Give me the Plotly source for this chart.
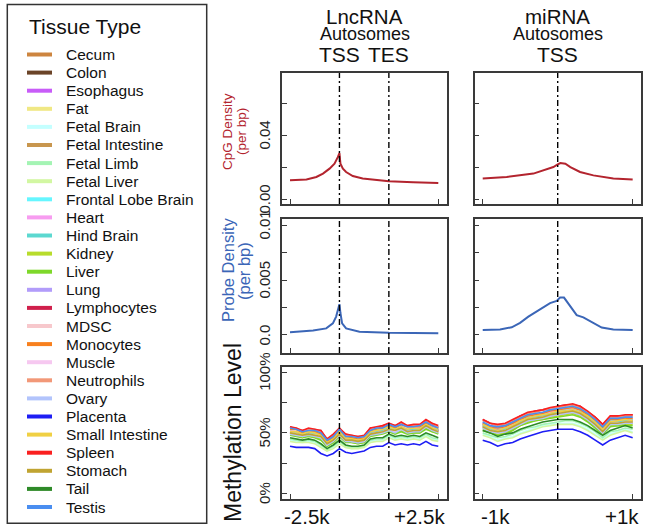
import plotly.graph_objects as go

W, H = 646, 529
FONT = "Liberation Sans, Arial, Helvetica, sans-serif"

# ---------------- data ----------------
tissues = ["Cecum", "Colon", "Esophagus", "Fat", "Fetal Brain", "Fetal Intestine",
           "Fetal Limb", "Fetal Liver", "Frontal Lobe Brain", "Heart", "Hind Brain",
           "Kidney", "Liver", "Lung", "Lymphocytes", "MDSC", "Monocytes", "Muscle",
           "Neutrophils", "Ovary", "Placenta", "Small Intestine", "Spleen", "Stomach",
           "Tail", "Testis"]
colors = ["#cd853f", "#6b4428", "#c85cf8", "#f0e884", "#c4ffff", "#c8964e",
          "#a4f4b4", "#d2f7a2", "#66f6ff", "#f79cf0", "#5cd8d0", "#b8dc2c",
          "#7ed82a", "#b29cfa", "#d0204c", "#f7c8cc", "#f8801e", "#f6c8f0",
          "#f29878", "#b2c4fc", "#1e1ef4", "#f0d044", "#fa2020", "#c0a432",
          "#2e8a28", "#4a8ef0"]

# LncRNA panel: scaled coordinate, 0 = -2.5k, 1 = TSS, 2 = TES, 3 = +2.5k
lnc_ticks = [0, 1, 2, 3]
mir_ticks = [-1000, 0, 1000]

cpg_lnc_x = [0, 0.333, 0.533, 0.667, 0.8, 0.9, 0.967, 1.0, 1.02, 1.07, 1.135, 1.27, 1.47, 1.76, 2.0, 2.49, 3.0]
cpg_lnc_y = [0.0118, 0.0122, 0.0138, 0.0159, 0.019, 0.0221, 0.0262, 0.0287, 0.0221, 0.019, 0.0169,
             0.0144, 0.0128, 0.0118, 0.0111, 0.0105, 0.0101]
cpg_mir_x = [-1000, -680, -324, -147, -58, 0, 36, 102, 169, 298, 476, 742, 1000]
cpg_mir_y = [0.0128, 0.0138, 0.0159, 0.0184, 0.02, 0.0216, 0.0225, 0.0221, 0.02, 0.0169, 0.0148, 0.0128, 0.0122]

probe_lnc_x = [0, 0.467, 0.733, 0.867, 0.933, 0.973, 1.0, 1.02, 1.054, 1.135, 1.405, 2.0, 3.0]
probe_lnc_y = [0.00024, 0.0004, 0.0006, 0.00106, 0.00167, 0.0024, 0.0028, 0.002, 0.00106, 0.0006,
               0.0003, 0.0002, 0.00015]
probe_mir_x = [-1000, -769, -613, -502, -391, -236, -102, -13, 31, 84, 164, 253, 342, 476, 587, 742, 1000]
probe_mir_y = [0.00045, 0.0005, 0.0007, 0.0011, 0.00167, 0.0023, 0.0029, 0.0031, 0.0034, 0.0034,
               0.0026, 0.0018, 0.0016, 0.00106, 0.00067, 0.0005, 0.00045]

lnc_x = [0, 0.125, 0.25, 0.375, 0.5, 0.625, 0.75, 0.875, 1.0, 1.125, 1.25, 1.375, 1.5,
         1.625, 1.75, 1.875, 2.0, 2.125, 2.25, 2.375, 2.5, 2.625, 2.75, 2.875, 3.0]
mir_x = [-1000, -900, -800, -700, -600, -500, -400, -300, -200, -100, 0,
         100, 200, 300, 400, 500, 600, 700, 800, 900, 1000]

# methylation (%) per tissue, LncRNA panel
lnc_cecum = [51,50,49,50,49,48,42,45,50,45,44,44,45,50,51,52,54,52,55,52,53,53,57,54,52]
lnc_colon = [51,50,48,50,49,47,41,45,50,45,44,43,44,50,51,52,54,52,55,52,53,53,56,54,52]
lnc_esophagus = [52,51,49,50,50,48,42,45,50,45,45,44,45,50,51,53,54,53,55,53,53,54,57,55,52]
lnc_fat = [50,50,48,50,49,47,41,44,50,45,44,43,44,50,51,52,54,52,54,52,52,53,56,54,51]
lnc_fetal_brain = [44,43,42,43,42,39,35,38,42,38,37,38,39,43,44,44,47,45,46,45,46,45,48,45,44]
lnc_fetal_intestine = [50,49,47,49,48,46,40,44,49,44,43,42,43,49,50,51,53,51,54,51,52,52,55,53,51]
lnc_fetal_limb = [45,44,43,44,43,40,36,39,43,39,38,38,39,44,45,45,48,46,47,46,47,46,49,46,45]
lnc_fetal_liver = [43,42,42,42,41,38,35,37,41,38,37,37,38,42,43,43,46,44,45,44,45,44,47,44,43]
lnc_frontal_lobe = [52,51,49,51,50,49,42,46,51,46,45,44,45,51,52,53,55,53,56,53,54,54,58,55,53]
lnc_heart = [52,52,50,51,51,49,43,46,51,46,46,45,46,51,52,54,55,54,56,54,54,55,58,55,53]
lnc_hind_brain = [51,51,48,50,50,48,41,45,50,46,45,43,44,50,51,52,55,52,55,52,53,53,57,54,52]
lnc_kidney = [48,48,46,48,47,45,39,42,47,43,42,41,42,48,49,50,51,50,52,50,50,50,54,51,50]
lnc_liver = [48,47,46,47,46,44,39,42,47,42,42,41,42,47,48,49,51,49,51,49,50,50,53,51,49]
lnc_lung = [50,49,48,48,48,46,40,44,49,44,43,42,43,49,50,51,53,51,54,51,51,52,55,53,51]
lnc_lymphocytes = [55,53,52,53,52,52,44,48,53,49,47,47,47,54,54,55,58,55,58,55,56,56,60,57,55]
lnc_mdsc = [53,52,50,52,51,50,43,47,52,47,46,45,46,52,53,54,56,54,57,54,55,55,59,56,54]
lnc_monocytes = [53,53,50,51,51,49,43,46,52,47,46,45,46,52,53,54,56,54,57,55,55,55,58,56,54]
lnc_muscle = [50,49,47,49,48,47,40,44,49,44,43,43,43,49,50,51,53,51,53,51,52,52,55,53,51]
lnc_neutrophils = [54,54,51,53,53,51,45,48,54,48,48,46,47,53,54,56,57,56,58,56,56,56,60,58,55]
lnc_ovary = [49,48,47,48,47,46,40,43,48,43,43,42,43,48,49,50,52,50,53,50,51,51,55,52,50]
lnc_placenta = [39,38,38,38,37,33,31,33,37,34,33,34,35,38,39,39,42,40,41,40,41,40,43,40,39]
lnc_small_intestine = [51,51,49,51,50,48,42,45,51,46,45,44,45,51,52,53,55,53,55,53,54,53,57,54,53]
lnc_spleen = [55,54,52,54,53,52,45,49,54,49,48,47,48,54,55,56,58,56,59,56,57,57,61,58,56]
lnc_stomach = [50,49,48,49,48,47,41,44,49,44,44,43,44,49,50,51,53,52,54,51,52,52,56,53,51]
lnc_tail = [46,45,44,45,44,41,37,40,44,40,39,39,40,45,46,46,49,47,48,47,48,47,50,48,46]
lnc_testis = [54,53,51,52,52,50,44,47,53,47,47,46,47,52,54,54,57,55,57,55,55,56,59,56,54]

# methylation (%) per tissue, miRNA panel
mir_cecum = [57,54,52,53,56,60,62,63,65,66,67,68,69,67,63,58,52,59,60,60,60]
mir_colon = [56,53,52,52,56,59,61,63,64,65,67,68,68,67,63,58,52,59,59,60,59]
mir_esophagus = [57,54,53,54,57,60,63,64,65,67,68,69,70,68,64,59,53,60,60,61,61]
mir_fat = [56,53,51,52,55,59,61,63,64,65,66,67,68,66,63,58,52,58,59,60,59]
mir_fetal_brain = [49,47,44,46,47,50,52,54,56,57,58,58,58,56,53,49,45,49,51,53,51]
mir_fetal_intestine = [55,52,51,51,54,58,60,62,63,64,66,66,67,65,62,57,51,57,58,59,58]
mir_fetal_limb = [50,48,46,47,49,52,54,55,57,58,59,60,60,58,55,51,46,51,52,54,53]
mir_fetal_liver = [48,46,43,45,46,49,51,53,55,56,57,57,57,55,52,48,44,48,50,52,50]
mir_frontal_lobe = [58,55,54,54,57,61,63,65,66,67,69,69,70,68,65,60,54,60,61,62,61]
mir_heart = [58,56,54,55,57,61,64,65,66,67,69,70,70,69,65,60,54,61,61,62,62]
mir_hind_brain = [56,53,52,53,56,59,62,63,64,66,67,68,69,67,63,58,52,59,59,60,60]
mir_kidney = [53,50,49,50,53,56,59,60,61,63,64,65,66,64,60,55,49,56,56,57,57]
mir_liver = [52,50,48,49,52,56,58,60,61,62,63,64,65,63,59,54,49,55,56,56,56]
mir_lung = [54,52,50,51,54,57,60,61,63,64,65,66,67,65,61,56,50,57,58,58,58]
mir_lymphocytes = [61,58,56,57,60,64,66,68,69,70,72,73,73,72,67,63,57,63,64,64,65]
mir_mdsc = [59,56,55,55,58,62,65,66,67,68,70,71,71,70,66,61,55,62,62,63,62]
mir_monocytes = [58,55,54,55,58,61,64,65,66,68,69,70,71,69,65,60,54,61,61,62,62]
mir_muscle = [55,52,50,52,55,58,61,62,63,64,66,67,68,66,62,57,51,58,58,59,59]
mir_neutrophils = [60,58,56,57,60,63,66,67,69,70,71,72,73,71,67,62,56,63,63,64,64]
mir_ovary = [54,51,50,51,54,57,60,61,62,64,65,66,67,65,61,56,50,57,57,58,58]
mir_placenta = [44,42,39,41,42,45,47,49,51,52,53,53,53,51,48,44,40,44,46,48,46]
mir_small_intestine = [57,54,52,54,56,60,62,64,65,66,68,68,69,67,64,59,53,59,60,61,60]
mir_spleen = [61,58,57,58,61,64,67,68,69,71,72,73,74,72,68,63,57,64,64,65,65]
mir_stomach = [55,52,51,52,55,58,61,62,63,65,66,67,68,66,62,57,51,58,58,59,59]
mir_tail = [52,50,47,49,50,53,55,57,59,60,61,61,61,59,56,52,48,52,54,56,54]
mir_testis = [59,56,55,56,59,62,65,66,67,69,70,71,72,70,66,61,55,62,62,63,63]

meth_lnc = [lnc_cecum, lnc_colon, lnc_esophagus, lnc_fat, lnc_fetal_brain, lnc_fetal_intestine,
            lnc_fetal_limb, lnc_fetal_liver, lnc_frontal_lobe, lnc_heart, lnc_hind_brain,
            lnc_kidney, lnc_liver, lnc_lung, lnc_lymphocytes, lnc_mdsc, lnc_monocytes, lnc_muscle,
            lnc_neutrophils, lnc_ovary, lnc_placenta, lnc_small_intestine, lnc_spleen, lnc_stomach,
            lnc_tail, lnc_testis]
meth_mir = [mir_cecum, mir_colon, mir_esophagus, mir_fat, mir_fetal_brain, mir_fetal_intestine,
            mir_fetal_limb, mir_fetal_liver, mir_frontal_lobe, mir_heart, mir_hind_brain,
            mir_kidney, mir_liver, mir_lung, mir_lymphocytes, mir_mdsc, mir_monocytes, mir_muscle,
            mir_neutrophils, mir_ovary, mir_placenta, mir_small_intestine, mir_spleen, mir_stomach,
            mir_tail, mir_testis]

cpg_ticks = [0, 0.02, 0.04, 0.06]
cpg_labels = {0: "0.00", 0.04: "0.04"}
probe_ticks = [0, 0.0025, 0.005, 0.0075, 0.01]
probe_labels = {0: "0.0", 0.005: "0.005", 0.01: "0.01"}
meth_ticks = [0, 25, 50, 75, 100]
meth_labels = {0: "0%", 50: "50%", 100: "100%"}

CPG_COLOR = "#b3242e"
PROBE_COLOR = "#3b66b7"

# ---------------- layout helpers ----------------
def px(p):
    return p / W


def py(p):
    return 1 - p / H


col_dom = [[px(282.3), px(446.7)], [px(474.7), px(640.7)]]
row_dom = [[py(204), py(73)], [py(353), py(219)], [py(499), py(367)]]
x_ranges = [[-0.156, 3.17], [-1107, 1107]]
y_ranges = [[-0.0031, 0.0788], [-0.00164, 0.01055], [-4.6, 104.4]]
y_tickvals = [cpg_ticks, probe_ticks, meth_ticks]
x_tickvals = [lnc_ticks, mir_ticks]

fig = go.Figure()
layout = dict(width=W, height=H, margin=dict(l=0, r=0, t=0, b=0),
              paper_bgcolor="white", plot_bgcolor="white", showlegend=False,
              font=dict(family=FONT, color="#111"))

AX = dict(showline=True, mirror=True, linecolor="#3a3a3a", linewidth=1.5,
          ticks="inside", ticklen=5, tickwidth=1.3, tickcolor="#3a3a3a",
          showticklabels=False, showgrid=False, zeroline=False, fixedrange=True)

panel = {}
k = 0
for r in range(3):
    for c in range(2):
        k += 1
        sx = "" if k == 1 else str(k)
        layout["xaxis" + sx] = dict(AX, domain=col_dom[c], range=x_ranges[c],
                                    tickvals=x_tickvals[c], anchor="y" + sx)
        layout["yaxis" + sx] = dict(AX, domain=row_dom[r], range=y_ranges[r],
                                    tickvals=y_tickvals[r], anchor="x" + sx)
        panel[(r, c)] = ("x" + sx, "y" + sx)


def add(r, c, x, y, color, width):
    xa, ya = panel[(r, c)]
    fig.add_trace(go.Scatter(x=x, y=y, mode="lines", line=dict(color=color, width=width),
                             xaxis=xa, yaxis=ya, hoverinfo="skip", showlegend=False))


add(0, 0, cpg_lnc_x, cpg_lnc_y, CPG_COLOR, 2)
add(0, 1, cpg_mir_x, cpg_mir_y, CPG_COLOR, 2)
add(1, 0, probe_lnc_x, probe_lnc_y, PROBE_COLOR, 2)
add(1, 1, probe_mir_x, probe_mir_y, PROBE_COLOR, 2)
for vals, col in zip(meth_lnc, colors):
    add(2, 0, lnc_x, vals, col, 1.6)
for vals, col in zip(meth_mir, colors):
    add(2, 1, mir_x, vals, col, 1.6)

shapes = []
annotations = []
DASH = "6px,3px,2px,3px"
for r in range(3):
    for c, xs in ((0, [1, 2]), (1, [0])):
        xa, ya = panel[(r, c)]
        for xv in xs:
            shapes.append(dict(type="line", xref=xa, yref=ya + " domain", x0=xv, x1=xv,
                               y0=0, y1=1, line=dict(color="black", width=1.4, dash=DASH)))


def ann(text, x, y, xref="paper", yref="paper", size=15, color="#111", angle=0,
        xanchor="center", yanchor="middle", xshift=0):
    annotations.append(dict(text=text, x=x, y=y, xref=xref, yref=yref, textangle=angle,
                            showarrow=False, xanchor=xanchor, yanchor=yanchor, xshift=xshift,
                            font=dict(size=size, color=color, family=FONT)))


# y tick labels (rotated), left column only
label_sets = [cpg_labels, probe_labels, meth_labels]
for r in range(3):
    xa, ya = panel[(r, 0)]
    for v, t in label_sets[r].items():
        ann(t, px(264.5), v, yref=ya, size=15, color="#222", angle=-90)

# x tick labels
for t, xd, anc, c, sh in (("-2.5k", 0, "left", 0, 0), ("+2.5k", 1, "right", 0, 0),
                          ("-1k", 0, "left", 1, 4), ("+1k", 1, "right", 1, 0)):
    xa, ya = panel[(2, c)]
    ann(t, xd, py(516.5), xref=xa + " domain", size=20.5, xanchor=anc, xshift=sh)

# y axis titles
ann("CpG Density", px(227.5), py(131.5), size=13.5, color=CPG_COLOR, angle=-90)
ann("(per bp)", px(242), py(132), size=13.5, color=CPG_COLOR, angle=-90)
ann("Probe Density", px(227.5), py(270.5), size=16.5, color=PROBE_COLOR, angle=-90)
ann("(per bp)", px(244), py(271), size=16.5, color=PROBE_COLOR, angle=-90)
ann("Methylation Level", px(233), py(433), size=23, angle=-90)

# column headers
for t, c, ypx, fs in (("LncRNA", 0, 16.7, 20.5), ("Autosomes", 0, 33.5, 18),
                      ("miRNA", 1, 16.7, 20.5), ("Autosomes", 1, 34, 18)):
    xa, _ = panel[(0, c)]
    ann(t, 0.5, py(ypx), xref=xa + " domain", size=fs)
for t, c, xv in (("TSS", 0, 1), ("TES", 0, 2), ("TSS", 1, 0)):
    xa, _ = panel[(0, c)]
    ann(t, xv, py(54.5), xref=xa, size=21)

# legend (drawn manually)
shapes.append(dict(type="rect", xref="paper", yref="paper", x0=px(7.3), x1=px(206.7),
                   y0=py(523.3), y1=py(4.5), line=dict(color="#333", width=1.5)))
ann("Tissue Type", px(26.7), py(26), size=21, xanchor="left")
for i, (t, col) in enumerate(zip(tissues, colors)):
    yc = 54.5 + 18.1 * i
    shapes.append(dict(type="line", xref="paper", yref="paper", x0=px(27), x1=px(52),
                       y0=py(yc), y1=py(yc), line=dict(color=col, width=4)))
    ann(t, px(64.3), py(yc), size=15.5, xanchor="left")

layout["shapes"] = shapes
layout["annotations"] = annotations
fig.update_layout(**layout)
fig.write_html("out.html", config={"displayModeBar": False},
               post_script="document.body.style.margin='0';document.body.style.overflow='hidden';")
